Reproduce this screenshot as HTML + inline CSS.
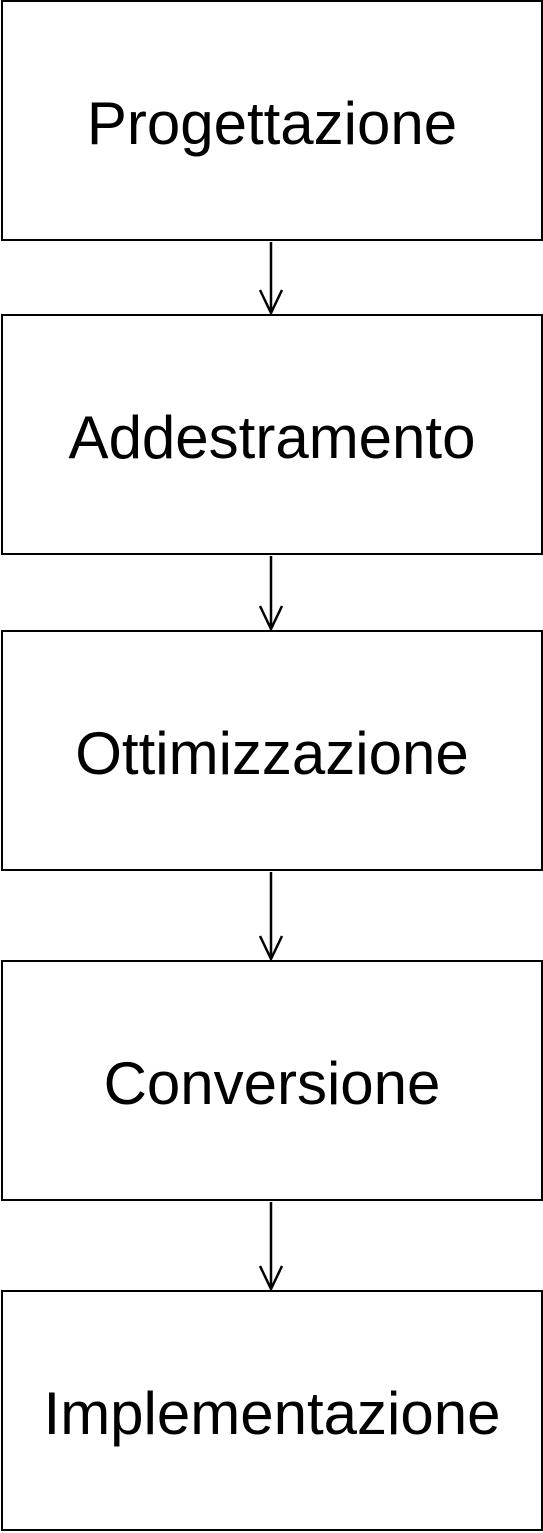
<!DOCTYPE html>
<html><head><style>
html,body{margin:0;padding:0;background:#fff;}
body{width:543px;height:1533px;position:relative;overflow:hidden;font-family:"Liberation Sans",Arial,sans-serif;}
.b{position:absolute;left:1px;width:538px;height:237px;border:2.5px solid #000;display:flex;align-items:center;justify-content:center;font-size:60px;color:#000;}
.b span{position:relative;top:3px;}
svg{position:absolute;left:0;top:0;}
</style></head><body>
<div class="b" style="top:0px;"><span>Progettazione</span></div>
<div class="b" style="top:314px;"><span>Addestramento</span></div>
<div class="b" style="top:630px;"><span>Ottimizzazione</span></div>
<div class="b" style="top:960px;"><span>Conversione</span></div>
<div class="b" style="top:1290px;"><span>Implementazione</span></div>
<svg width="543" height="1533">
<g stroke="#000" stroke-width="2.5" fill="none">
<path d="M271 242V313M260 290L271 313L282 290"/>
<path d="M271 556V629M260 606L271 629L282 606"/>
<path d="M271 872V959M260 936L271 959L282 936"/>
<path d="M271 1202V1289M260 1266L271 1289L282 1266"/>
</g></svg>
</body></html>
